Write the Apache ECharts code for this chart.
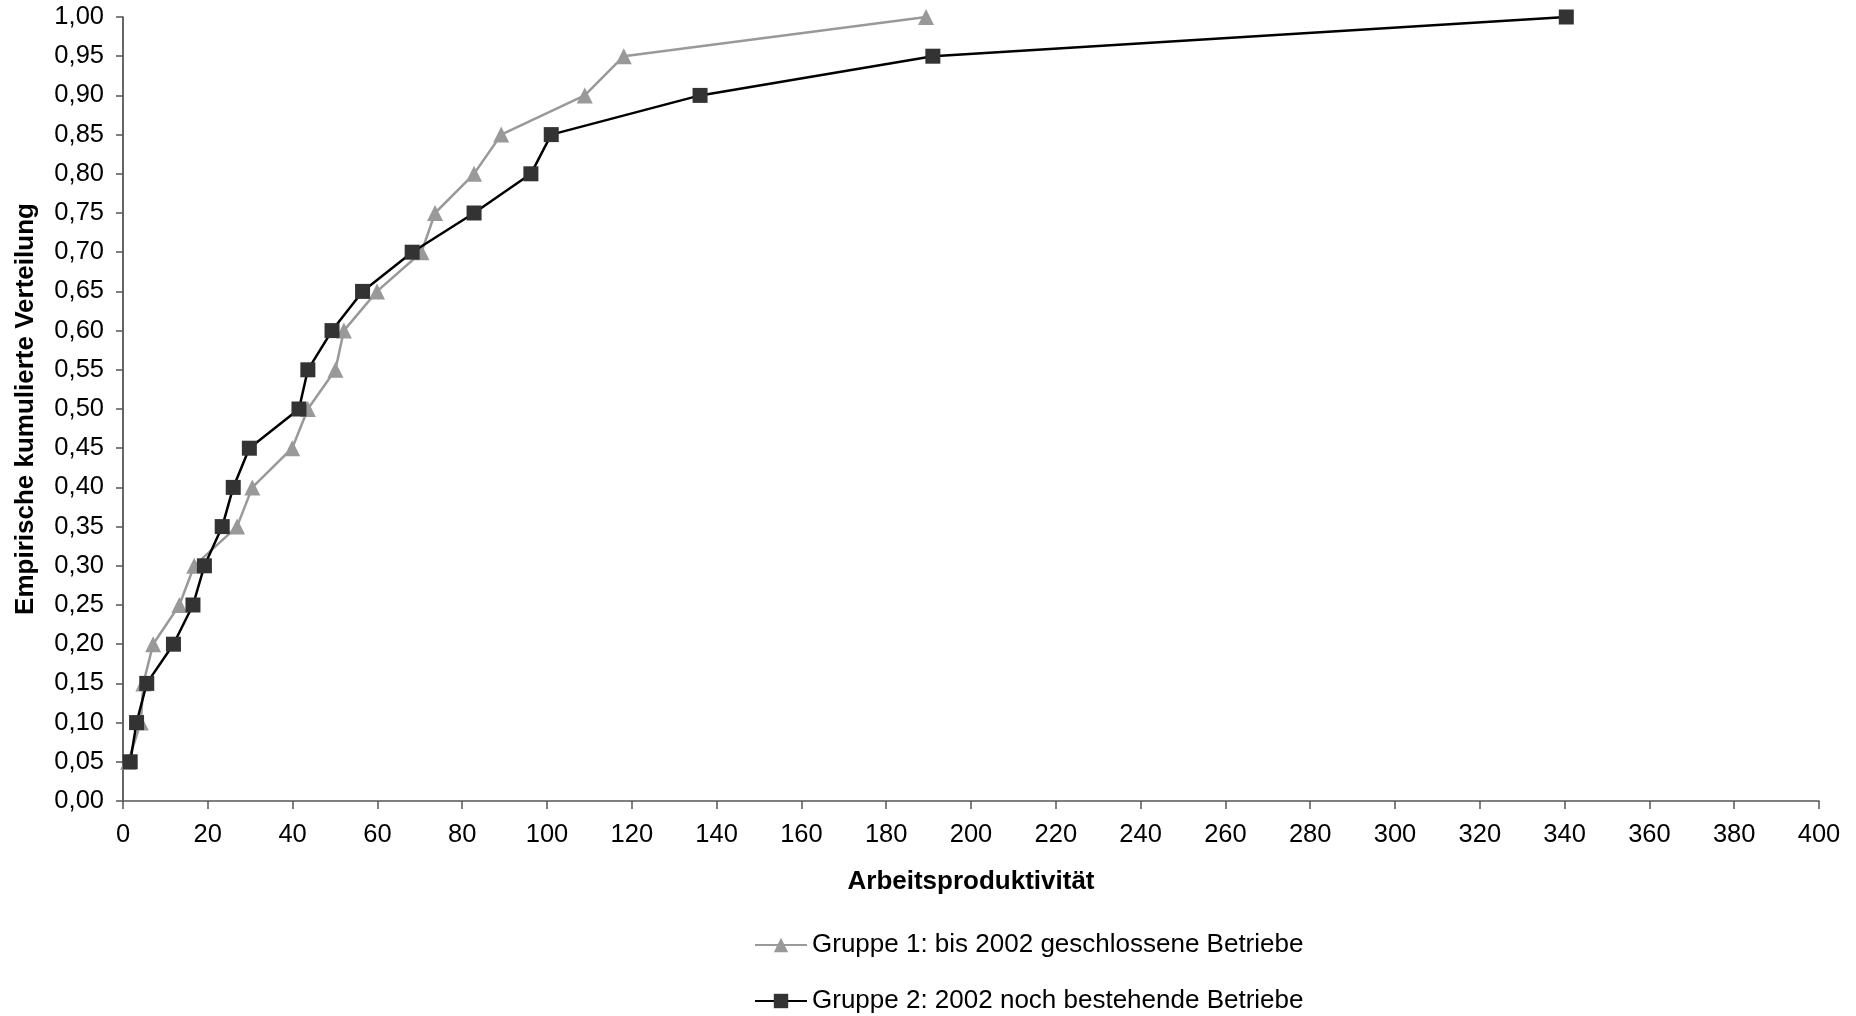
<!DOCTYPE html>
<html>
<head>
<meta charset="utf-8">
<script src="https://cdn.jsdelivr.net/npm/echarts@6/dist/echarts.min.js"></script>
<style>
html,body{margin:0;padding:0;background:#fff;}
#chart{width:1856px;height:1016px;}
</style>
</head>
<body>
<div id="chart"></div>
<script>
// Cumulative share levels (y)
const shares = [0.05,0.10,0.15,0.20,0.25,0.30,0.35,0.40,0.45,0.50,0.55,0.60,0.65,0.70,0.75,0.80,0.85,0.90,0.95,1.00];
// Gruppe 1: bis 2002 geschlossene Betriebe (x values)
const group1X = [1.2,4.2,4.8,7.1,13.3,16.8,26.9,30.5,39.9,43.6,50.1,52.1,59.9,70.4,73.6,82.8,89.2,108.9,118.1,189.4];
// Gruppe 2: 2002 noch bestehende Betriebe (x values)
const group2X = [1.7,3.2,5.6,11.9,16.5,19.2,23.4,26.0,29.8,41.5,43.6,49.3,56.5,68.2,82.8,96.2,101.0,136.1,191.0,340.4];
const seriesNames = ['Gruppe 1: bis 2002 geschlossene Betriebe','Gruppe 2: 2002 noch bestehende Betriebe'];
const xTitle = 'Arbeitsproduktivität';
const yTitle = 'Empirische kumulierte Verteilung';

const FONT = '"Liberation Sans", Arial, sans-serif';
const chart = echarts.init(document.getElementById('chart'));
const pairs = (xs) => xs.map((x,i)=>[x, shares[i]]);

const legendBase = {
  orient:'horizontal',
  left:749,
  itemWidth:52, itemHeight:18, itemGap:10,
  textStyle:{fontFamily:FONT,fontSize:26,color:'#000'}
};

chart.setOption({
  animation:false,
  backgroundColor:'#fff',
  textStyle:{fontFamily:FONT},
  grid:{left:123,right:37,top:17,bottom:215,containLabel:false},
  legend:[
    Object.assign({}, legendBase, {top:927, data:[seriesNames[0]]}),
    Object.assign({}, legendBase, {top:983, data:[seriesNames[1]]})
  ],
  xAxis:{
    type:'value', min:0, max:400, interval:20,
    name:xTitle, nameLocation:'middle', nameGap:68,
    nameTextStyle:{fontFamily:FONT,fontSize:26,fontWeight:'bold',color:'#000'},
    axisLine:{show:true,lineStyle:{color:'#555',width:1.5}},
    axisTick:{show:true,length:8,lineStyle:{color:'#555',width:1.5}},
    axisLabel:{fontFamily:FONT,fontSize:25.5,color:'#000',margin:21},
    splitLine:{show:false}
  },
  yAxis:{
    type:'value', min:0, max:1, interval:0.05,
    name:yTitle, nameLocation:'middle', nameGap:84,
    nameTextStyle:{fontFamily:FONT,fontSize:26,fontWeight:'bold',color:'#000'},
    axisLine:{show:true,lineStyle:{color:'#333',width:1.5}},
    axisTick:{show:true,length:7,lineStyle:{color:'#555',width:1.5}},
    axisLabel:{fontFamily:FONT,fontSize:25.5,color:'#000',margin:19,
      formatter:(v)=>v.toFixed(2).replace('.',',')},
    splitLine:{show:false}
  },
  series:[
    {
      name:seriesNames[0], type:'line', data:pairs(group1X),
      symbol:'triangle', symbolSize:16, showAllSymbol:true,
      lineStyle:{color:'#999999',width:2.5},
      itemStyle:{color:'#999999'},
      z:2
    },
    {
      name:seriesNames[1], type:'line', data:pairs(group2X),
      symbol:'rect', symbolSize:15, showAllSymbol:true,
      lineStyle:{color:'#000000',width:2.5},
      itemStyle:{color:'#333333'},
      z:3
    }
  ]
});
</script>
</body>
</html>
